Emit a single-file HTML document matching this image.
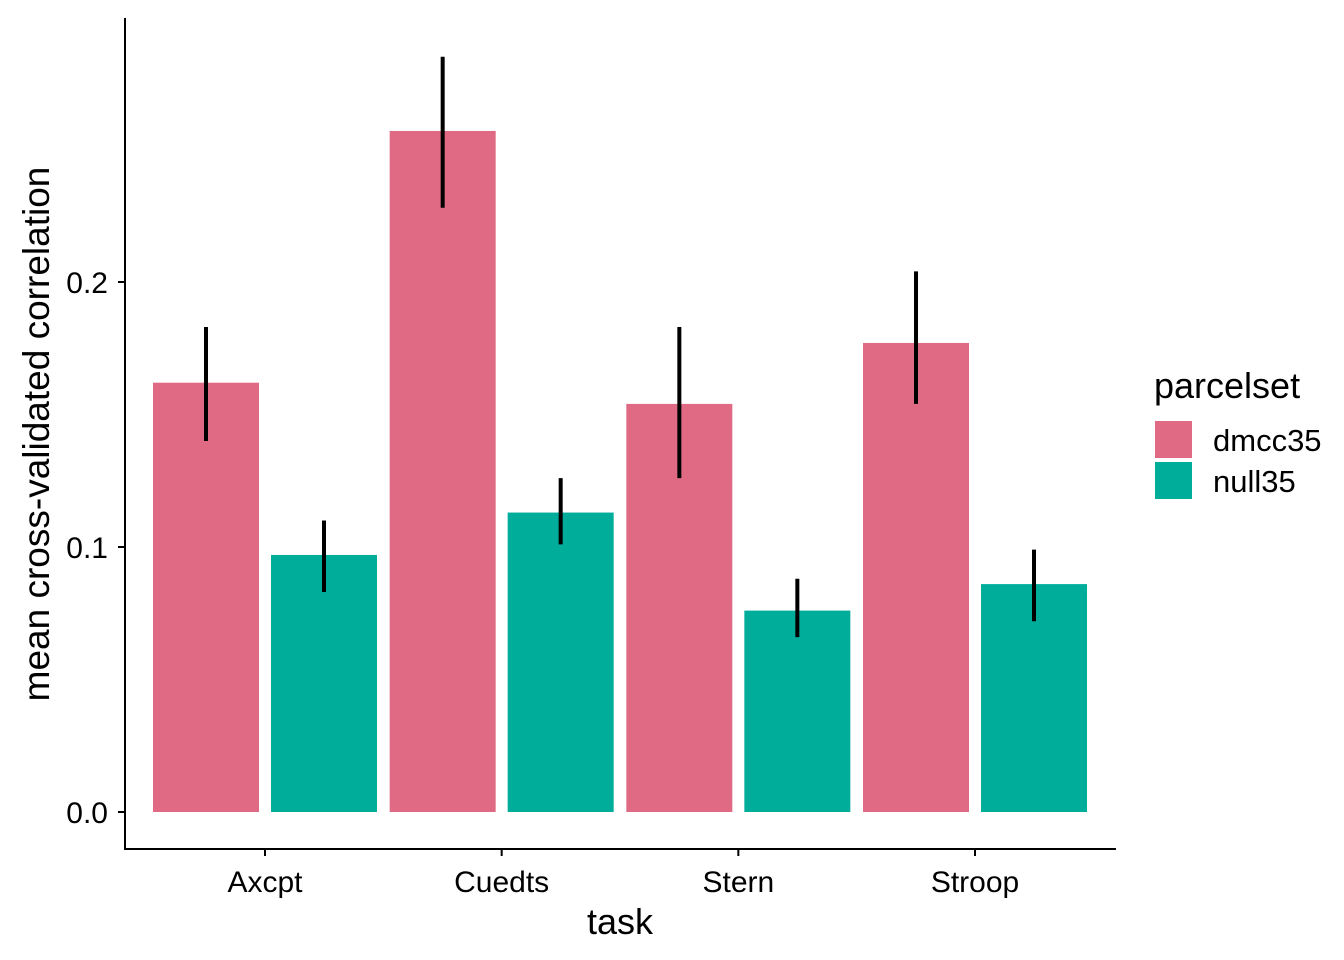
<!DOCTYPE html>
<html><head><meta charset="utf-8"><style>
html,body{margin:0;padding:0;background:#fff;}
svg{display:block;font-family:"Liberation Sans",Arial,sans-serif;}
</style></head><body>
<svg id="chart" width="1344" height="960">
<g id="plot"></g>
</svg>
<script>
const categories = ["Axcpt","Cuedts","Stern","Stroop"];
const seriesNames = ["dmcc35","null35"];
const dmccValues = [0.162,0.257,0.154,0.177];
const dmccLow = [0.140,0.228,0.126,0.154];
const dmccHigh = [0.183,0.285,0.183,0.204];
const nullValues = [0.097,0.113,0.076,0.086];
const nullLow = [0.083,0.101,0.066,0.072];
const nullHigh = [0.110,0.126,0.088,0.099];
const yTicks = [0.0,0.1,0.2];
const yTickLabels = ["0.0","0.1","0.2"];

const NS="http://www.w3.org/2000/svg";
const svg=document.getElementById('plot');
const colors=["#E06A84","#00AD9A"];
const y0=812, pxPerUnit=2650;
const yScale=v=>y0-v*pxPerUnit;
const xCenter=i=>265+i*236.67;
function mk(tag,attrs,parent){const e=document.createElementNS(NS,tag);for(const k in attrs)e.setAttribute(k,attrs[k]);(parent||svg).appendChild(e);return e;}

const series=[[dmccValues,dmccLow,dmccHigh],[nullValues,nullLow,nullHigh]];
series.forEach((s,si)=>{
  categories.forEach((c,i)=>{
    const cx=xCenter(i)+(si===0?-59:59);
    const r=mk('rect',{x:cx-53,y:yScale(s[0][i]),width:106,height:y0-yScale(s[0][i]),fill:colors[si]});
    
    
  });
});
series.forEach((s,si)=>{
  categories.forEach((c,i)=>{
    const cx=xCenter(i)+(si===0?-59:59);
    const l=mk('line',{x1:cx,x2:cx,y1:yScale(s[1][i]),y2:yScale(s[2][i]),stroke:'#000','stroke-width':4});
    
    
  });
});
let a=mk('line',{x1:125,x2:125,y1:18,y2:850,stroke:'#000','stroke-width':2});


a=mk('line',{x1:124,x2:1116,y1:849,y2:849,stroke:'#000','stroke-width':2});


yTicks.forEach((t,i)=>{
  const y=yScale(t);
  mk('line',{x1:118,x2:125,y1:y,y2:y,stroke:'#000','stroke-width':2});
  const tx=mk('text',{x:108,y:y+11,'text-anchor':'end','font-size':30,fill:'#000'});
  tx.textContent=yTickLabels[i];
  
  
});
categories.forEach((c,i)=>{
  const x=xCenter(i);
  mk('line',{x1:x,x2:x,y1:849,y2:856,stroke:'#000','stroke-width':2});
  const tx=mk('text',{x:x,y:892,'text-anchor':'middle','font-size':30,fill:'#000'});
  tx.textContent=c;
  
  
});
let t=mk('text',{x:620,y:934,'text-anchor':'middle','font-size':36,fill:'#000'});
t.textContent='task';


t=mk('text',{x:0,y:0,transform:'translate(49,434) rotate(-90)','text-anchor':'middle','font-size':37,fill:'#000'});
t.textContent='mean cross-validated correlation';


t=mk('text',{x:1154,y:398,'font-size':36,fill:'#000'});
t.textContent='parcelset';


seriesNames.forEach((n,i)=>{
  const y=421+i*41;
  const r=mk('rect',{x:1155,y:y,width:37,height:37,fill:colors[i]});
  
  
  const tx=mk('text',{x:1213,y:y+30,'font-size':31,fill:'#000'});
  tx.textContent=n;
  
  
});
</script>
</body></html>
